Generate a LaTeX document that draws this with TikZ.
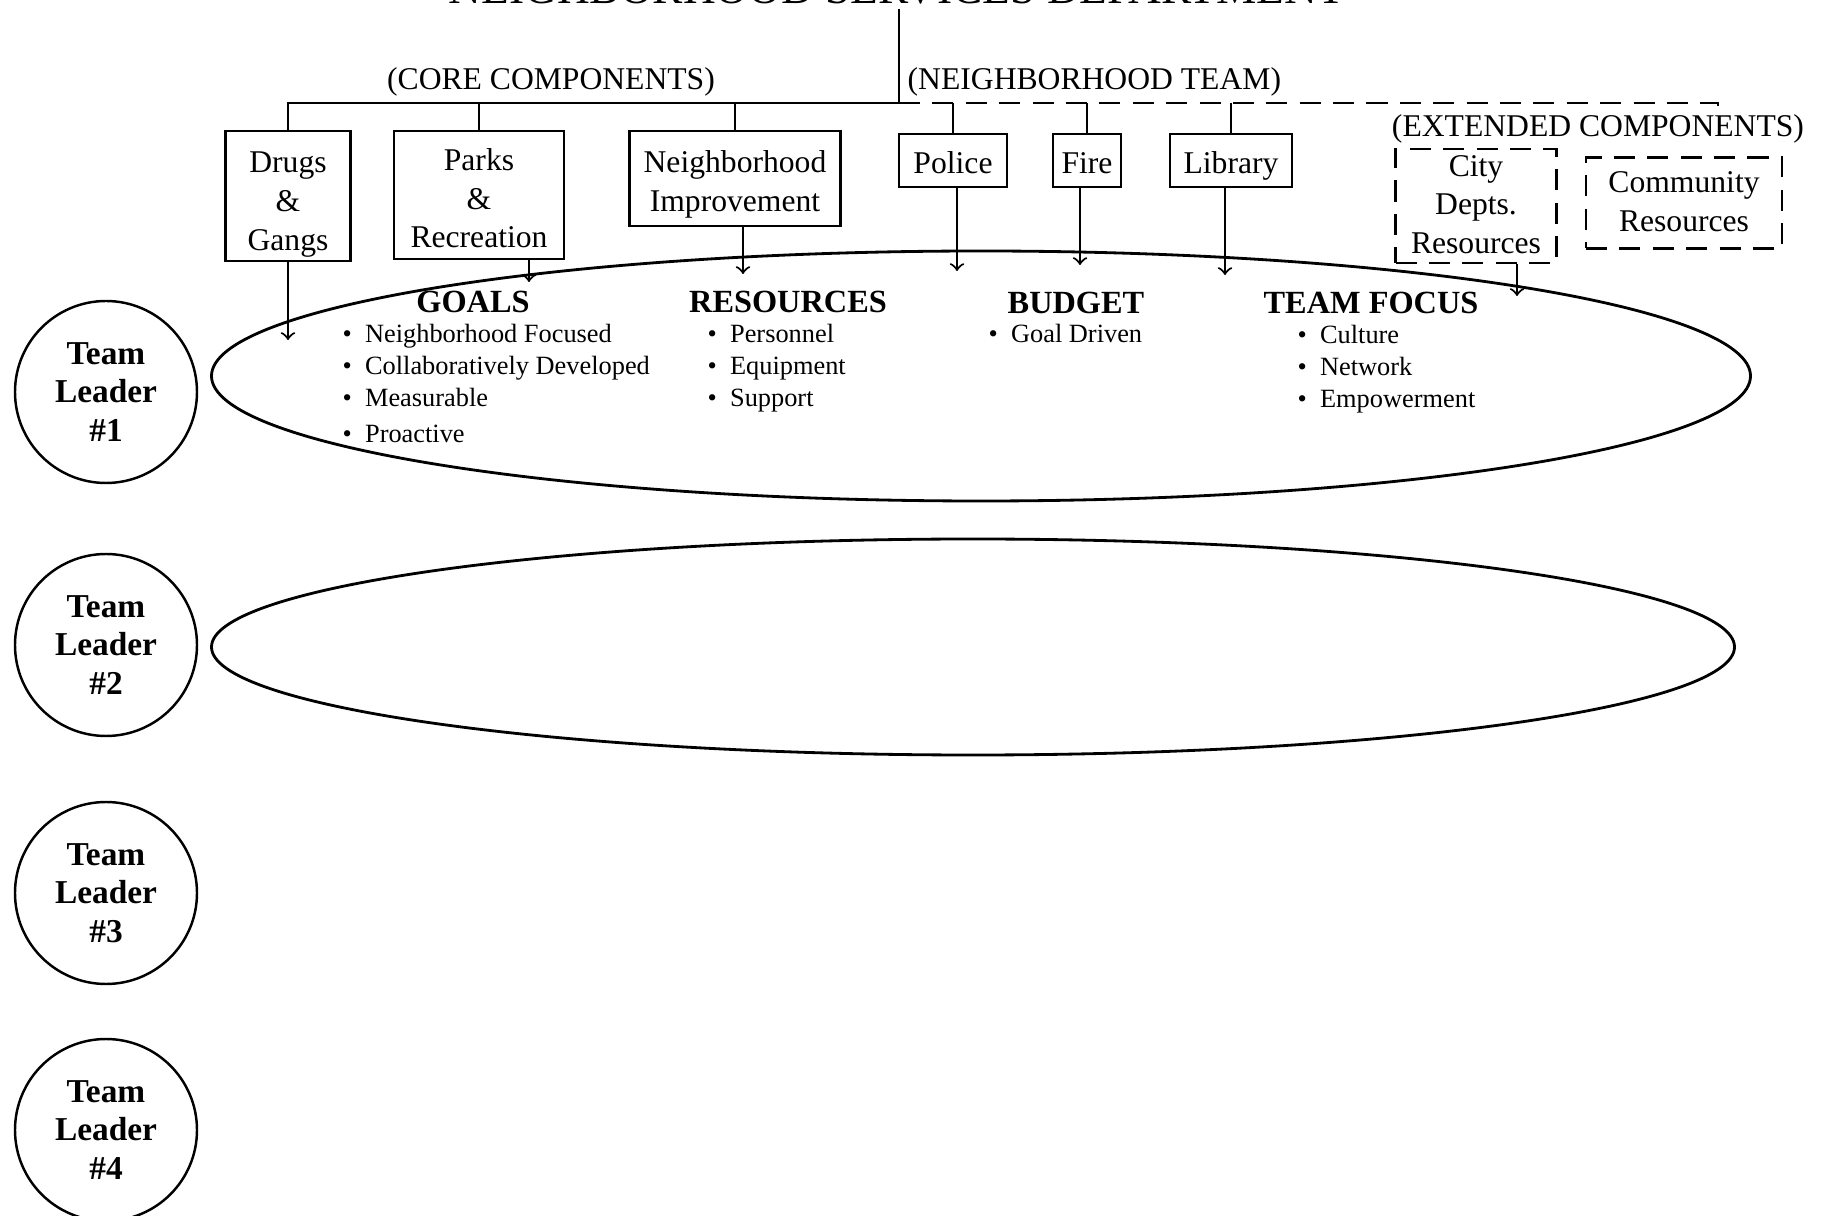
\documentclass[tikz,border=0pt]{standalone}
\usepackage{fontspec}
\setmainfont{Liberation Serif}
\usetikzlibrary{shapes.geometric}
\tikzset{unit/.style = {draw, line width = 0.6pt, align = center, inner sep = 0, text depth = 2pt, font = \fontsize{9}{11}\selectfont}}
\tikzset{extunit/.style = {unit, dash pattern = on 6pt off 3.5pt}}
\tikzset{leader/.style = {draw, circle, line width = 0.7pt, minimum size = 1.82cm, inner sep = 0, align = center, font = \fontsize{9.5}{11}\selectfont\bfseries}}
\tikzset{ring/.style = {draw, ellipse, line width = 0.8pt, inner sep = 0}}
\tikzset{head/.style = {anchor = base, inner sep = 0, font = \fontsize{9.2}{11}\selectfont\bfseries}}
\tikzset{items/.style = {anchor = north west, align = left, inner sep = 0, font = \fontsize{7.5}{9}\selectfont}}
\tikzset{tag/.style = {anchor = base, inner sep = 0, font = \fontsize{9}{11}\selectfont}}
\tikzset{feed/.style = {->, line width = 0.6pt}}

\begin{document}
\begin{tikzpicture}
      \useasboundingbox (0, 0) rectangle (18.3, -12.16);
      \node [anchor = base, inner sep = 1pt, font = \fontsize{12.9}{14}\selectfont] (dept) at (8.97, -0.04) {NEIGHBORHOOD SERVICES DEPARTMENT};
      \coordinate (hub) at (8.99, -1.03);
      \coordinate (busEnd) at (17.18, -1.03);
      \coordinate (busTip) at (17.18, -1.10);
      \draw [line width = 0.6pt] (dept.south -| hub) -- (hub);

      \node [tag] (core) at (5.51, -0.90) {(CORE COMPONENTS)};
      \node [tag, anchor = base west] (nbteam) at (9.07, -0.90) {(NEIGHBORHOOD TEAM)};
      \node [tag] (extended) at (15.98, -1.37) {(EXTENDED COMPONENTS)};

      \node [unit, text height = 32.8pt, minimum width = 1.25cm, minimum height = 1.30cm] (drugs) at (2.88, -1.96) {Drugs\\\&\\Gangs};
      \node [unit, text height = 32pt, minimum width = 1.70cm, minimum height = 1.28cm] (parks) at (4.79, -1.95) {Parks\\\&\\Recreation};
      \node [unit, text height = 20.6pt, minimum width = 2.11cm, minimum height = 0.95cm] (improve) at (7.35, -1.785) {Neighborhood\\Improvement};
      \node [unit, text height = 7.6pt, text depth = 0pt, minimum width = 1.08cm, minimum height = 0.53cm] (police) at (9.53, -1.605) {Police};
      \node [unit, text height = 7.6pt, text depth = 0pt, minimum width = 0.68cm, minimum height = 0.53cm] (fire) at (10.87, -1.605) {Fire};
      \node [unit, text height = 7.6pt, text depth = 0pt, minimum width = 1.22cm, minimum height = 0.53cm] (library) at (12.31, -1.605) {Library};
      \node [extunit, text height = 29pt, minimum width = 1.61cm, minimum height = 1.14cm] (citydepts) at (14.76, -2.06) {City\\Depts.\\Resources};
      \node [extunit, text height = 18pt, minimum width = 1.96cm, minimum height = 0.91cm] (community) at (16.84, -2.03) {Community\\Resources};

      \draw [line width = 0.6pt] (hub) -- (drugs.north |- hub) -- (drugs.north);
      \draw [line width = 0.6pt] (parks.north |- hub) -- (parks.north);
      \draw [line width = 0.6pt] (improve.north |- hub) -- (improve.north);
      \draw [line width = 0.6pt] (police.north |- hub) -- (police.north);
      \draw [line width = 0.6pt] (fire.north |- hub) -- (fire.north);
      \draw [line width = 0.6pt] (library.north |- hub) -- (library.north);
      \draw [line width = 0.6pt, dash pattern = on 6pt off 3.5pt] (hub) -- (busEnd) -- (busTip);

      \node [ring, minimum width = 15.39cm, minimum height = 2.50cm] (team1) at (9.81, -3.76) {};
      \node [ring, minimum width = 15.23cm, minimum height = 2.16cm] (team2) at (9.73, -6.47) {};

      \coordinate (drugsIn) at (2.88, -3.40);
      \coordinate (parksIn) at (5.29, -2.82);
      \coordinate (improveIn) at (7.43, -2.74);
      \coordinate (policeIn) at (9.57, -2.71);
      \coordinate (fireIn) at (10.80, -2.65);
      \coordinate (libraryIn) at (12.25, -2.75);
      \coordinate (cityIn) at (15.17, -2.96);
      \draw [feed] (drugs.south) -- (drugsIn);
      \draw [feed] (parks.south -| parksIn) -- (parksIn);
      \draw [feed] (improve.south -| improveIn) -- (improveIn);
      \draw [feed] (police.south -| policeIn) -- (policeIn);
      \draw [feed] (fire.south -| fireIn) -- (fireIn);
      \draw [feed] (library.south -| libraryIn) -- (libraryIn);
      \draw [feed] (citydepts.south -| cityIn) -- (cityIn);

      \node [head] (goals) at (4.73, -3.13) {GOALS};
      \node [items] (goalsList) at (3.42, -3.24) {\textbullet~ Neighborhood Focused\\\textbullet~ Collaboratively Developed\\\textbullet~ Measurable\\[1.3pt]\textbullet~ Proactive};
      \node [head] (resources) at (7.88, -3.13) {RESOURCES};
      \node [items] (resourcesList) at (7.07, -3.24) {\textbullet~ Personnel\\\textbullet~ Equipment\\\textbullet~ Support};
      \node [head] (budget) at (10.76, -3.14) {BUDGET};
      \node [items] (budgetList) at (9.88, -3.24) {\textbullet~ Goal Driven};
      \node [head] (focus) at (13.71, -3.14) {TEAM FOCUS};
      \node [items] (focusList) at (12.97, -3.25) {\textbullet~ Culture\\\textbullet~ Network\\\textbullet~ Empowerment};

      \node [leader] (lead1) at (1.06, -3.92) {Team\\Leader\\\#1};
      \node [leader] (lead2) at (1.06, -6.45) {Team\\Leader\\\#2};
      \node [leader] (lead3) at (1.06, -8.93) {Team\\Leader\\\#3};
      \node [leader] (lead4) at (1.06, -11.30) {Team\\Leader\\\#4};
    \end{tikzpicture}
\end{document}
